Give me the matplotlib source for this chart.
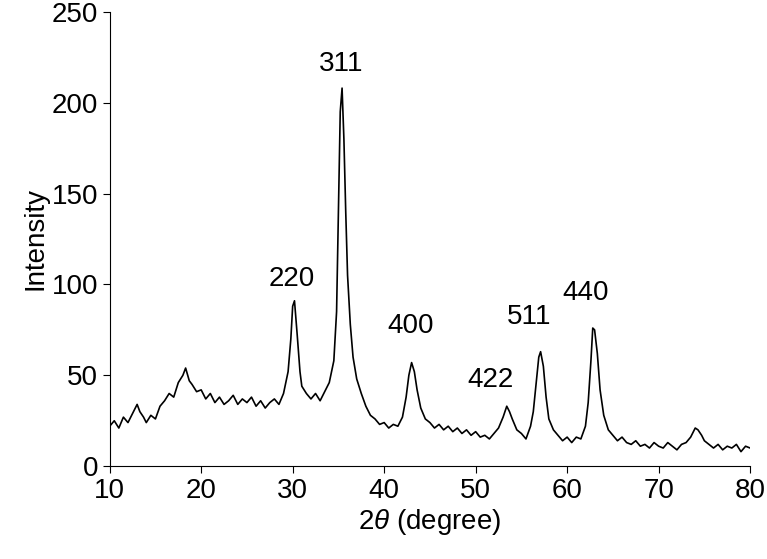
import matplotlib
matplotlib.use('Agg')
import matplotlib.pyplot as plt

plt.rcParams['font.family'] = ['Liberation Sans', 'DejaVu Sans']
plt.rcParams['mathtext.fontset'] = 'custom'
plt.rcParams['mathtext.it'] = 'Liberation Sans:italic'

# 2theta / intensity
two_theta = [10, 10.5, 11, 11.5, 12, 12.5, 13, 13.3, 13.7, 14, 14.5, 15, 15.5, 16, 16.5, 17, 17.5,
             18, 18.3, 18.7, 19, 19.5, 20, 20.5, 21, 21.5, 22, 22.5, 23, 23.5, 24, 24.5, 25, 25.5,
             26, 26.5, 27, 27.5, 28, 28.5, 29, 29.5, 29.8, 30, 30.2, 30.5, 30.8, 31, 31.5, 32,
             32.5, 33, 33.5, 34, 34.5, 34.8, 35, 35.2, 35.4, 35.6, 35.8, 36, 36.3, 36.6, 37, 37.5,
             38, 38.5, 39, 39.5, 40, 40.5, 41, 41.5, 42, 42.4, 42.7, 43, 43.3, 43.6, 44, 44.5,
             45, 45.5, 46, 46.5, 47, 47.5, 48, 48.5, 49, 49.5, 50, 50.5, 51, 51.5, 52, 52.5, 53,
             53.4, 53.7, 54, 54.5, 55, 55.5, 56, 56.3, 56.6, 56.9, 57.1, 57.4, 57.7, 58, 58.5,
             59, 59.5, 60, 60.5, 61, 61.5, 62, 62.3, 62.6, 62.8, 63, 63.3, 63.6, 64, 64.5, 65,
             65.5, 66, 66.5, 67, 67.5, 68, 68.5, 69, 69.5, 70, 70.5, 71, 71.5, 72, 72.5, 73,
             73.5, 74, 74.3, 74.7, 75, 75.5, 76, 76.5, 77, 77.5, 78, 78.5, 79, 79.5, 80]
intensity = [22, 25, 21, 27, 24, 29, 34, 30, 27, 24, 28, 26, 33, 36, 40, 38, 46,
             50, 54, 47, 45, 41, 42, 37, 40, 35, 38, 34, 36, 39, 34, 37, 35, 38,
             33, 36, 32, 35, 37, 34, 40, 52, 70, 88, 91, 72, 52, 44, 40, 37,
             40, 36, 41, 46, 58, 85, 140, 195, 208, 180, 140, 105, 78, 60, 48, 40,
             33, 28, 26, 23, 24, 21, 23, 22, 27, 38, 50, 57, 52, 42, 32, 26,
             24, 21, 23, 20, 22, 19, 21, 18, 20, 17, 19, 16, 17, 15, 18, 21, 27,
             33, 30, 26, 20, 18, 15, 22, 30, 45, 60, 63, 55, 38, 26, 20,
             17, 14, 16, 13, 16, 15, 22, 35, 58, 76, 75, 62, 42, 28, 20, 17,
             14, 16, 13, 12, 14, 11, 12, 10, 13, 11, 10, 13, 11, 9, 12, 13,
             16, 21, 20, 17, 14, 12, 10, 12, 9, 11, 10, 12, 8, 11, 10]

peak_labels = ['220', '311', '400', '422', '511', '440']
peak_pos = [(29.9, 96), (35.3, 214), (42.9, 70), (51.6, 40), (55.8, 75), (62.0, 88)]

fig = plt.figure(figsize=(7.67, 5.59), dpi=100)
ax = fig.add_axes([0.143, 0.166, 0.835, 0.813])
ax.plot(two_theta, intensity, color='black', linewidth=1.2)

for lab, (px, py) in zip(peak_labels, peak_pos):
    ax.text(px, py, lab, fontsize=20, ha='center', va='bottom')

ax.set_xlim(10, 80)
ax.set_ylim(0, 250)
ax.set_xticks(range(10, 81, 10))
ax.set_yticks(range(0, 251, 50))
ax.spines['top'].set_visible(False)
ax.spines['right'].set_visible(False)
ax.tick_params(labelsize=20, direction='out', length=5)
ax.set_xlabel('2$\\it{\\theta}$ (degree)', fontsize=20, labelpad=2)
ax.set_ylabel('Intensity', fontsize=20, labelpad=2)

fig.savefig('out.png', dpi=100)
